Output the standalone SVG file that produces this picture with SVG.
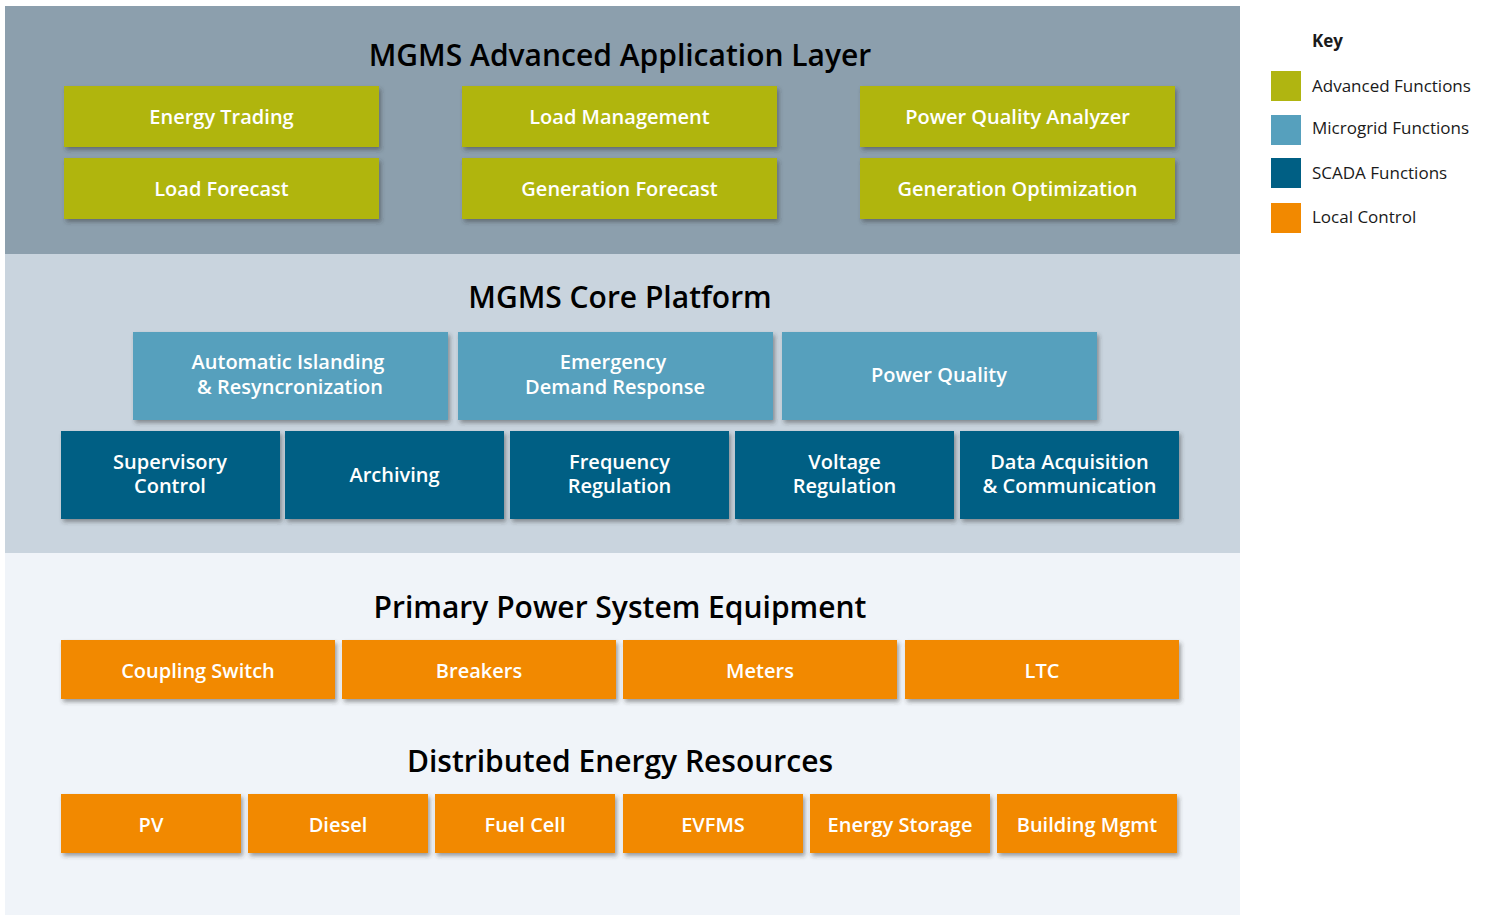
<svg xmlns="http://www.w3.org/2000/svg" width="1490" height="915" viewBox="0 0 1490 915">
<defs>
<filter id="sh" x="-10%" y="-20%" width="130%" height="160%">
<feDropShadow dx="2" dy="3" stdDeviation="2" flood-color="#333" flood-opacity="0.45"/>
</filter>
<style>
.t{font-family:"Open Sans","Noto Sans",sans-serif;font-weight:600;font-size:30px;fill:#000;text-anchor:middle}
.b{font-family:"Open Sans","Noto Sans",sans-serif;font-weight:600;font-size:20px;fill:#fff;text-anchor:middle}
.k{font-family:"Open Sans","Noto Sans",sans-serif;font-size:17px;fill:#1a1a1a}
.adv{fill:#b0b511;filter:url(#sh)}
.mg{fill:#56a0bd;filter:url(#sh)}
.sc{fill:#005f84;filter:url(#sh)}
.lc{fill:#f28900;filter:url(#sh)}
</style>
</defs>
<rect width="1490" height="915" fill="#fff"/>
<g id="bands">
<rect x="5" y="6" width="1235" height="248" fill="#8c9fad"/>
<rect x="5" y="254" width="1235" height="299" fill="#c9d4de"/>
<rect x="5" y="553" width="1235" height="362" fill="#f0f4f9"/>
<text class="t" x="620" y="66">MGMS Advanced Application Layer</text>
<text class="t" x="620" y="308">MGMS Core Platform</text>
<text class="t" x="620" y="618">Primary Power System Equipment</text>
<text class="t" x="620" y="772">Distributed Energy Resources</text>
</g>
<g id="connectors"></g>
<g id="energy-trading"><rect class="adv" x="64" y="86" width="315" height="61"/><text class="b" x="221.5" y="124">Energy Trading</text></g>
<g id="load-management"><rect class="adv" x="462" y="86" width="315" height="61"/><text class="b" x="619.5" y="124">Load Management</text></g>
<g id="power-quality-analyzer"><rect class="adv" x="860" y="86" width="315" height="61"/><text class="b" x="1017.5" y="124">Power Quality Analyzer</text></g>
<g id="load-forecast"><rect class="adv" x="64" y="158" width="315" height="61"/><text class="b" x="221.5" y="196">Load Forecast</text></g>
<g id="generation-forecast"><rect class="adv" x="462" y="158" width="315" height="61"/><text class="b" x="619.5" y="196">Generation Forecast</text></g>
<g id="generation-optimization"><rect class="adv" x="860" y="158" width="315" height="61"/><text class="b" x="1017.5" y="196">Generation Optimization</text></g>
<g id="auto-islanding"><rect class="mg" x="133" y="332" width="315" height="88"/><text class="b" x="288" y="369">Automatic Islanding</text><text class="b" x="290" y="394">&amp; Resyncronization</text></g>
<g id="emergency-dr"><rect class="mg" x="458" y="332" width="315" height="88"/><text class="b" x="613" y="369">Emergency</text><text class="b" x="615" y="394">Demand Response</text></g>
<g id="power-quality"><rect class="mg" x="782" y="332" width="315" height="88"/><text class="b" x="939" y="382">Power Quality</text></g>
<g id="supervisory-control"><rect class="sc" x="61" y="431" width="219" height="88"/><text class="b" x="170" y="469">Supervisory</text><text class="b" x="170" y="493">Control</text></g>
<g id="archiving"><rect class="sc" x="285" y="431" width="219" height="88"/><text class="b" x="394.5" y="482">Archiving</text></g>
<g id="frequency-regulation"><rect class="sc" x="510" y="431" width="219" height="88"/><text class="b" x="619.5" y="469">Frequency</text><text class="b" x="619.5" y="493">Regulation</text></g>
<g id="voltage-regulation"><rect class="sc" x="735" y="431" width="219" height="88"/><text class="b" x="844.5" y="469">Voltage</text><text class="b" x="844.5" y="493">Regulation</text></g>
<g id="data-acquisition"><rect class="sc" x="960" y="431" width="219" height="88"/><text class="b" x="1069.5" y="469">Data Acquisition</text><text class="b" x="1069.5" y="493">&amp; Communication</text></g>
<g id="coupling-switch"><rect class="lc" x="61" y="640" width="274" height="59"/><text class="b" x="198" y="678">Coupling Switch</text></g>
<g id="breakers"><rect class="lc" x="342" y="640" width="274" height="59"/><text class="b" x="479" y="678">Breakers</text></g>
<g id="meters"><rect class="lc" x="623" y="640" width="274" height="59"/><text class="b" x="760" y="678">Meters</text></g>
<g id="ltc"><rect class="lc" x="905" y="640" width="274" height="59"/><text class="b" x="1042" y="678">LTC</text></g>
<g id="pv"><rect class="lc" x="61" y="794" width="180" height="59"/><text class="b" x="151" y="832">PV</text></g>
<g id="diesel"><rect class="lc" x="248" y="794" width="180" height="59"/><text class="b" x="338" y="832">Diesel</text></g>
<g id="fuel-cell"><rect class="lc" x="435" y="794" width="180" height="59"/><text class="b" x="525" y="832">Fuel Cell</text></g>
<g id="evfms"><rect class="lc" x="623" y="794" width="180" height="59"/><text class="b" x="713" y="832">EVFMS</text></g>
<g id="energy-storage"><rect class="lc" x="810" y="794" width="180" height="59"/><text class="b" x="900" y="832">Energy Storage</text></g>
<g id="building-mgmt"><rect class="lc" x="997" y="794" width="180" height="59"/><text class="b" x="1087" y="832">Building Mgmt</text></g>
<g id="key">
<text class="k" x="1312" y="47" font-weight="700">Key</text>
<rect x="1271" y="71" width="30" height="30" fill="#b0b511"/><text class="k" x="1312" y="92">Advanced Functions</text>
<rect x="1271" y="115" width="30" height="30" fill="#56a0bd"/><text class="k" x="1312" y="134">Microgrid Functions</text>
<rect x="1271" y="158" width="30" height="30" fill="#005f84"/><text class="k" x="1312" y="179">SCADA Functions</text>
<rect x="1271" y="203" width="30" height="30" fill="#f28900"/><text class="k" x="1312" y="223">Local Control</text>
</g>
</svg>
